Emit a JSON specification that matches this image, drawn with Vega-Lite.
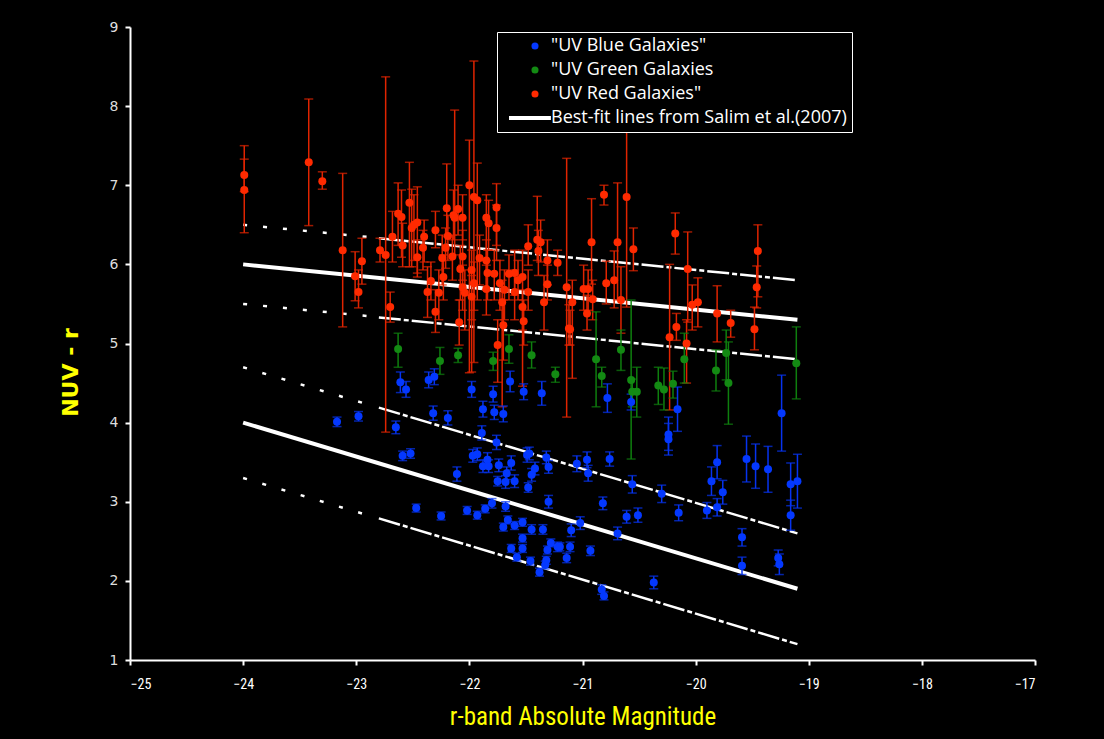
{
  "$schema": "https://vega.github.io/schema/vega-lite/v6.json",
  "width": 905,
  "height": 633,
  "autosize": "none",
  "padding": {"left": 130, "top": 27, "right": 69, "bottom": 79},
  "background": "#000000",
  "config": {
    "view": {"stroke": null},
    "axis": {"grid": false, "domainColor": "#ffffff", "domainWidth": 2, "tickColor": "#ffffff", "tickWidth": 2, "tickSize": 5}
  },
  "datasets": {
    "pts": [
      {"g":"r","x":-23.99,"y":7.13,"lo":6.92,"hi":7.5},
      {"g":"r","x":-23.99,"y":6.94,"lo":6.4,"hi":7.33},
      {"g":"r","x":-23.42,"y":7.29,"lo":6.49,"hi":8.09},
      {"g":"r","x":-23.3,"y":7.05,"lo":6.95,"hi":7.17},
      {"g":"r","x":-23.12,"y":6.18,"lo":5.21,"hi":7.15},
      {"g":"r","x":-23.01,"y":5.85,"lo":5.54,"hi":6.16},
      {"g":"r","x":-22.98,"y":5.65,"lo":5.45,"hi":5.93},
      {"g":"r","x":-22.95,"y":6.04,"lo":5.75,"hi":6.33},
      {"g":"r","x":-22.79,"y":6.18,"lo":6.03,"hi":6.33},
      {"g":"r","x":-22.74,"y":6.12,"lo":3.88,"hi":8.37},
      {"g":"r","x":-22.7,"y":5.46,"lo":5.27,"hi":5.65},
      {"g":"r","x":-22.68,"y":6.35,"lo":6.03,"hi":6.67},
      {"g":"r","x":-22.63,"y":6.64,"lo":6.24,"hi":7.03},
      {"g":"r","x":-22.6,"y":6.6,"lo":6.09,"hi":6.94},
      {"g":"r","x":-22.59,"y":6.24,"lo":5.97,"hi":6.52},
      {"g":"r","x":-22.53,"y":6.78,"lo":5.97,"hi":7.29},
      {"g":"r","x":-22.51,"y":6.46,"lo":5.97,"hi":6.95},
      {"g":"r","x":-22.49,"y":6.5,"lo":6.05,"hi":6.88},
      {"g":"r","x":-22.46,"y":6.53,"lo":5.89,"hi":6.98},
      {"g":"r","x":-22.46,"y":6.09,"lo":5.84,"hi":6.31},
      {"g":"r","x":-22.4,"y":6.35,"lo":6.03,"hi":6.56},
      {"g":"r","x":-22.41,"y":6.21,"lo":5.93,"hi":6.43},
      {"g":"r","x":-22.37,"y":5.65,"lo":5.33,"hi":5.97},
      {"g":"r","x":-22.34,"y":5.79,"lo":5.55,"hi":6.03},
      {"g":"r","x":-22.3,"y":6.43,"lo":6.21,"hi":6.67},
      {"g":"r","x":-22.3,"y":5.4,"lo":5.14,"hi":5.68},
      {"g":"r","x":-22.27,"y":5.64,"lo":5.3,"hi":5.93},
      {"g":"r","x":-22.24,"y":6.08,"lo":5.74,"hi":6.37},
      {"g":"r","x":-22.23,"y":5.84,"lo":5.55,"hi":6.12},
      {"g":"r","x":-22.21,"y":6.21,"lo":5.95,"hi":6.46},
      {"g":"r","x":-22.2,"y":6.71,"lo":6.35,"hi":7.27},
      {"g":"r","x":-22.19,"y":6.36,"lo":6.05,"hi":6.62},
      {"g":"r","x":-22.15,"y":6.1,"lo":5.8,"hi":6.37},
      {"g":"r","x":-22.14,"y":6.62,"lo":6.31,"hi":6.94},
      {"g":"r","x":-22.13,"y":6.59,"lo":6.12,"hi":7.95},
      {"g":"r","x":-22.1,"y":6.7,"lo":6.37,"hi":7.0},
      {"g":"r","x":-22.09,"y":5.27,"lo":4.98,"hi":5.55},
      {"g":"r","x":-22.08,"y":5.94,"lo":5.55,"hi":6.24},
      {"g":"r","x":-22.06,"y":6.1,"lo":5.8,"hi":6.43},
      {"g":"r","x":-22.06,"y":6.59,"lo":6.31,"hi":6.88},
      {"g":"r","x":-22.06,"y":5.71,"lo":5.42,"hi":5.99},
      {"g":"r","x":-22.04,"y":5.64,"lo":5.17,"hi":5.93},
      {"g":"r","x":-22.0,"y":7.0,"lo":4.63,"hi":7.57},
      {"g":"r","x":-21.98,"y":5.93,"lo":4.64,"hi":6.18},
      {"g":"r","x":-21.98,"y":5.59,"lo":5.3,"hi":5.86},
      {"g":"r","x":-21.96,"y":6.85,"lo":4.76,"hi":8.57},
      {"g":"r","x":-21.93,"y":6.81,"lo":5.55,"hi":7.28},
      {"g":"r","x":-21.96,"y":5.76,"lo":5.42,"hi":6.03},
      {"g":"r","x":-21.91,"y":6.08,"lo":5.74,"hi":6.37},
      {"g":"r","x":-21.85,"y":6.59,"lo":6.05,"hi":6.88},
      {"g":"r","x":-21.83,"y":6.52,"lo":6.18,"hi":6.81},
      {"g":"r","x":-21.85,"y":6.05,"lo":5.68,"hi":6.31},
      {"g":"r","x":-21.84,"y":5.89,"lo":5.55,"hi":6.18},
      {"g":"r","x":-21.85,"y":5.69,"lo":5.36,"hi":5.99},
      {"g":"r","x":-21.78,"y":5.88,"lo":5.55,"hi":6.18},
      {"g":"r","x":-21.76,"y":6.72,"lo":6.24,"hi":7.02},
      {"g":"r","x":-21.76,"y":6.46,"lo":6.05,"hi":6.75},
      {"g":"r","x":-21.75,"y":4.98,"lo":4.51,"hi":5.3},
      {"g":"r","x":-21.73,"y":5.76,"lo":5.42,"hi":6.05},
      {"g":"r","x":-21.71,"y":5.52,"lo":4.2,"hi":5.8},
      {"g":"r","x":-21.7,"y":5.23,"lo":4.79,"hi":5.55},
      {"g":"r","x":-21.69,"y":5.68,"lo":5.3,"hi":5.93},
      {"g":"r","x":-21.65,"y":5.88,"lo":5.55,"hi":6.12},
      {"g":"r","x":-21.6,"y":5.89,"lo":5.61,"hi":6.18},
      {"g":"r","x":-21.6,"y":5.65,"lo":5.3,"hi":5.93},
      {"g":"r","x":-21.57,"y":5.8,"lo":5.55,"hi":6.05},
      {"g":"r","x":-21.53,"y":5.46,"lo":5.17,"hi":5.68},
      {"g":"r","x":-21.53,"y":5.84,"lo":4.46,"hi":6.18},
      {"g":"r","x":-21.52,"y":5.28,"lo":4.98,"hi":5.55},
      {"g":"r","x":-21.48,"y":6.23,"lo":5.99,"hi":6.5},
      {"g":"r","x":-21.48,"y":5.65,"lo":5.42,"hi":5.93},
      {"g":"r","x":-21.4,"y":6.31,"lo":6.05,"hi":6.86},
      {"g":"r","x":-21.37,"y":6.28,"lo":6.03,"hi":6.56},
      {"g":"r","x":-21.39,"y":6.17,"lo":5.86,"hi":6.43},
      {"g":"r","x":-21.34,"y":5.52,"lo":5.17,"hi":5.86},
      {"g":"r","x":-21.31,"y":6.05,"lo":5.74,"hi":6.31},
      {"g":"r","x":-21.31,"y":5.75,"lo":5.55,"hi":5.99},
      {"g":"r","x":-21.22,"y":6.02,"lo":5.86,"hi":6.18},
      {"g":"r","x":-21.14,"y":5.71,"lo":4.07,"hi":7.34},
      {"g":"r","x":-21.12,"y":5.19,"lo":4.98,"hi":5.49},
      {"g":"r","x":-21.09,"y":5.52,"lo":4.56,"hi":5.8},
      {"g":"r","x":-20.99,"y":5.69,"lo":5.42,"hi":5.99},
      {"g":"r","x":-20.95,"y":5.69,"lo":5.42,"hi":5.93},
      {"g":"r","x":-20.96,"y":5.38,"lo":5.17,"hi":5.61},
      {"g":"r","x":-20.92,"y":6.28,"lo":5.75,"hi":6.83},
      {"g":"r","x":-20.91,"y":5.56,"lo":5.3,"hi":5.8},
      {"g":"r","x":-20.81,"y":6.88,"lo":6.75,"hi":7.0},
      {"g":"r","x":-20.79,"y":5.76,"lo":5.5,"hi":6.04},
      {"g":"r","x":-20.72,"y":5.8,"lo":5.45,"hi":6.17},
      {"g":"r","x":-20.69,"y":6.28,"lo":5.55,"hi":7.03},
      {"g":"r","x":-20.66,"y":5.55,"lo":5.13,"hi":5.97},
      {"g":"r","x":-20.61,"y":6.85,"lo":5.46,"hi":8.62},
      {"g":"r","x":-20.55,"y":6.19,"lo":5.92,"hi":6.46},
      {"g":"r","x":-20.18,"y":6.39,"lo":6.13,"hi":6.65},
      {"g":"r","x":-20.07,"y":5.94,"lo":5.27,"hi":6.41},
      {"g":"r","x":-19.98,"y":5.52,"lo":5.21,"hi":5.83},
      {"g":"r","x":-20.03,"y":5.49,"lo":5.17,"hi":5.74},
      {"g":"r","x":-19.81,"y":5.38,"lo":5.02,"hi":5.73},
      {"g":"r","x":-19.69,"y":5.26,"lo":5.08,"hi":5.42},
      {"g":"r","x":-19.45,"y":6.17,"lo":5.59,"hi":6.5},
      {"g":"r","x":-19.46,"y":5.71,"lo":5.45,"hi":5.98},
      {"g":"r","x":-19.48,"y":5.18,"lo":4.92,"hi":5.46},
      {"g":"r","x":-20.17,"y":5.21,"lo":5.04,"hi":5.38},
      {"g":"r","x":-20.23,"y":5.08,"lo":4.16,"hi":6.0},
      {"g":"r","x":-20.08,"y":5.0,"lo":4.5,"hi":5.3},
      {"g":"r","x":-21.11,"y":5.18,"lo":4.98,"hi":5.42},
      {"g":"g","x":-22.63,"y":4.93,"lo":4.7,"hi":5.13},
      {"g":"g","x":-22.26,"y":4.78,"lo":4.61,"hi":4.95},
      {"g":"g","x":-22.1,"y":4.85,"lo":4.76,"hi":4.94},
      {"g":"g","x":-21.79,"y":4.78,"lo":4.66,"hi":4.89},
      {"g":"g","x":-21.65,"y":4.93,"lo":4.75,"hi":5.11},
      {"g":"g","x":-21.45,"y":4.85,"lo":4.69,"hi":5.02},
      {"g":"g","x":-21.24,"y":4.61,"lo":4.51,"hi":4.7},
      {"g":"g","x":-20.88,"y":4.8,"lo":4.2,"hi":5.4},
      {"g":"g","x":-20.83,"y":4.59,"lo":4.45,"hi":4.7},
      {"g":"g","x":-20.66,"y":4.92,"lo":4.66,"hi":5.17},
      {"g":"g","x":-20.57,"y":4.54,"lo":3.54,"hi":5.55},
      {"g":"g","x":-20.56,"y":4.39,"lo":4.2,"hi":4.55},
      {"g":"g","x":-20.52,"y":4.39,"lo":4.07,"hi":4.7},
      {"g":"g","x":-20.33,"y":4.47,"lo":4.23,"hi":4.7},
      {"g":"g","x":-20.28,"y":4.42,"lo":4.16,"hi":4.69},
      {"g":"g","x":-20.2,"y":4.49,"lo":4.31,"hi":4.65},
      {"g":"g","x":-20.1,"y":4.8,"lo":4.5,"hi":5.13},
      {"g":"g","x":-19.82,"y":4.66,"lo":4.4,"hi":4.92},
      {"g":"g","x":-19.73,"y":4.88,"lo":4.54,"hi":5.17},
      {"g":"g","x":-19.71,"y":4.5,"lo":3.98,"hi":5.02},
      {"g":"g","x":-19.11,"y":4.75,"lo":4.3,"hi":5.21},
      {"g":"b","x":-23.17,"y":4.01,"lo":3.95,"hi":4.07},
      {"g":"b","x":-22.98,"y":4.08,"lo":4.02,"hi":4.14},
      {"g":"b","x":-22.65,"y":3.94,"lo":3.86,"hi":4.02},
      {"g":"b","x":-22.61,"y":4.51,"lo":4.38,"hi":4.64},
      {"g":"b","x":-22.56,"y":4.42,"lo":4.32,"hi":4.52},
      {"g":"b","x":-22.59,"y":3.58,"lo":3.52,"hi":3.64},
      {"g":"b","x":-22.52,"y":3.61,"lo":3.55,"hi":3.67},
      {"g":"b","x":-22.47,"y":2.92,"lo":2.87,"hi":2.97},
      {"g":"b","x":-22.36,"y":4.54,"lo":4.44,"hi":4.64},
      {"g":"b","x":-22.31,"y":4.58,"lo":4.48,"hi":4.68},
      {"g":"b","x":-22.32,"y":4.12,"lo":4.03,"hi":4.21},
      {"g":"b","x":-22.25,"y":2.82,"lo":2.77,"hi":2.87},
      {"g":"b","x":-22.19,"y":4.06,"lo":3.97,"hi":4.15},
      {"g":"b","x":-22.11,"y":3.35,"lo":3.26,"hi":3.44},
      {"g":"b","x":-22.02,"y":2.89,"lo":2.84,"hi":2.94},
      {"g":"b","x":-21.98,"y":4.42,"lo":4.32,"hi":4.52},
      {"g":"b","x":-21.97,"y":3.58,"lo":3.5,"hi":3.66},
      {"g":"b","x":-21.93,"y":3.6,"lo":3.52,"hi":3.68},
      {"g":"b","x":-21.93,"y":2.83,"lo":2.78,"hi":2.88},
      {"g":"b","x":-21.89,"y":3.87,"lo":3.78,"hi":3.96},
      {"g":"b","x":-21.88,"y":4.17,"lo":4.07,"hi":4.27},
      {"g":"b","x":-21.86,"y":2.91,"lo":2.86,"hi":2.96},
      {"g":"b","x":-21.88,"y":3.45,"lo":3.37,"hi":3.53},
      {"g":"b","x":-21.84,"y":3.53,"lo":3.44,"hi":3.62},
      {"g":"b","x":-21.83,"y":3.45,"lo":3.37,"hi":3.53},
      {"g":"b","x":-21.8,"y":2.98,"lo":2.92,"hi":3.04},
      {"g":"b","x":-21.79,"y":4.36,"lo":4.26,"hi":4.46},
      {"g":"b","x":-21.78,"y":4.13,"lo":4.04,"hi":4.22},
      {"g":"b","x":-21.76,"y":3.75,"lo":3.66,"hi":3.84},
      {"g":"b","x":-21.74,"y":3.46,"lo":3.38,"hi":3.54},
      {"g":"b","x":-21.75,"y":3.26,"lo":3.2,"hi":3.32},
      {"g":"b","x":-21.7,"y":4.11,"lo":4.01,"hi":4.21},
      {"g":"b","x":-21.7,"y":2.68,"lo":2.63,"hi":2.73},
      {"g":"b","x":-21.68,"y":2.94,"lo":2.88,"hi":3.0},
      {"g":"b","x":-21.68,"y":3.25,"lo":3.17,"hi":3.33},
      {"g":"b","x":-21.66,"y":2.77,"lo":2.72,"hi":2.82},
      {"g":"b","x":-21.64,"y":4.52,"lo":4.39,"hi":4.65},
      {"g":"b","x":-21.63,"y":3.49,"lo":3.4,"hi":3.58},
      {"g":"b","x":-21.67,"y":3.36,"lo":3.28,"hi":3.44},
      {"g":"b","x":-21.6,"y":3.26,"lo":3.18,"hi":3.34},
      {"g":"b","x":-21.6,"y":2.7,"lo":2.65,"hi":2.75},
      {"g":"b","x":-21.53,"y":2.74,"lo":2.69,"hi":2.79},
      {"g":"b","x":-21.53,"y":2.54,"lo":2.49,"hi":2.59},
      {"g":"b","x":-21.53,"y":2.41,"lo":2.36,"hi":2.46},
      {"g":"b","x":-21.63,"y":2.41,"lo":2.36,"hi":2.46},
      {"g":"b","x":-21.58,"y":2.3,"lo":2.25,"hi":2.35},
      {"g":"b","x":-21.52,"y":4.39,"lo":4.29,"hi":4.49},
      {"g":"b","x":-21.49,"y":3.59,"lo":3.5,"hi":3.68},
      {"g":"b","x":-21.47,"y":3.61,"lo":3.53,"hi":3.69},
      {"g":"b","x":-21.48,"y":3.18,"lo":3.12,"hi":3.24},
      {"g":"b","x":-21.45,"y":3.34,"lo":3.26,"hi":3.42},
      {"g":"b","x":-21.45,"y":2.65,"lo":2.59,"hi":2.71},
      {"g":"b","x":-21.46,"y":2.25,"lo":2.2,"hi":2.3},
      {"g":"b","x":-21.42,"y":3.42,"lo":3.34,"hi":3.5},
      {"g":"b","x":-21.38,"y":2.11,"lo":2.06,"hi":2.16},
      {"g":"b","x":-21.36,"y":4.37,"lo":4.22,"hi":4.52},
      {"g":"b","x":-21.35,"y":2.65,"lo":2.59,"hi":2.71},
      {"g":"b","x":-21.32,"y":3.56,"lo":3.48,"hi":3.64},
      {"g":"b","x":-21.3,"y":3.44,"lo":3.36,"hi":3.52},
      {"g":"b","x":-21.3,"y":3.0,"lo":2.92,"hi":3.08},
      {"g":"b","x":-21.31,"y":2.39,"lo":2.34,"hi":2.44},
      {"g":"b","x":-21.32,"y":2.26,"lo":2.21,"hi":2.31},
      {"g":"b","x":-21.33,"y":2.2,"lo":2.15,"hi":2.25},
      {"g":"b","x":-21.28,"y":2.48,"lo":2.43,"hi":2.53},
      {"g":"b","x":-21.22,"y":2.43,"lo":2.37,"hi":2.49},
      {"g":"b","x":-21.2,"y":2.43,"lo":2.38,"hi":2.48},
      {"g":"b","x":-21.14,"y":2.29,"lo":2.23,"hi":2.35},
      {"g":"b","x":-21.11,"y":2.43,"lo":2.37,"hi":2.49},
      {"g":"b","x":-21.1,"y":2.64,"lo":2.56,"hi":2.72},
      {"g":"b","x":-21.05,"y":3.48,"lo":3.38,"hi":3.58},
      {"g":"b","x":-21.02,"y":2.73,"lo":2.65,"hi":2.81},
      {"g":"b","x":-20.96,"y":3.53,"lo":3.43,"hi":3.63},
      {"g":"b","x":-20.95,"y":3.36,"lo":3.26,"hi":3.46},
      {"g":"b","x":-20.93,"y":2.38,"lo":2.32,"hi":2.44},
      {"g":"b","x":-20.82,"y":2.98,"lo":2.9,"hi":3.06},
      {"g":"b","x":-20.78,"y":4.31,"lo":4.13,"hi":4.49},
      {"g":"b","x":-20.76,"y":3.54,"lo":3.45,"hi":3.63},
      {"g":"b","x":-20.69,"y":2.6,"lo":2.52,"hi":2.68},
      {"g":"b","x":-20.83,"y":1.89,"lo":1.83,"hi":1.95},
      {"g":"b","x":-20.81,"y":1.81,"lo":1.76,"hi":1.86},
      {"g":"b","x":-20.61,"y":2.81,"lo":2.73,"hi":2.89},
      {"g":"b","x":-20.57,"y":4.26,"lo":4.16,"hi":4.36},
      {"g":"b","x":-20.56,"y":3.22,"lo":3.11,"hi":3.33},
      {"g":"b","x":-20.51,"y":2.83,"lo":2.74,"hi":2.92},
      {"g":"b","x":-20.37,"y":1.98,"lo":1.9,"hi":2.06},
      {"g":"b","x":-20.3,"y":3.1,"lo":2.99,"hi":3.21},
      {"g":"b","x":-20.24,"y":3.85,"lo":3.65,"hi":4.07},
      {"g":"b","x":-20.24,"y":3.79,"lo":3.59,"hi":3.99},
      {"g":"b","x":-20.16,"y":4.17,"lo":3.89,"hi":4.45},
      {"g":"b","x":-20.15,"y":2.86,"lo":2.76,"hi":2.96},
      {"g":"b","x":-19.9,"y":2.89,"lo":2.79,"hi":2.99},
      {"g":"b","x":-19.86,"y":3.26,"lo":3.08,"hi":3.44},
      {"g":"b","x":-19.81,"y":3.5,"lo":3.29,"hi":3.71},
      {"g":"b","x":-19.76,"y":3.12,"lo":2.97,"hi":3.27},
      {"g":"b","x":-19.81,"y":2.93,"lo":2.82,"hi":3.04},
      {"g":"b","x":-19.55,"y":3.54,"lo":3.25,"hi":3.83},
      {"g":"b","x":-19.47,"y":3.45,"lo":3.17,"hi":3.73},
      {"g":"b","x":-19.36,"y":3.41,"lo":3.12,"hi":3.7},
      {"g":"b","x":-19.24,"y":4.12,"lo":3.64,"hi":4.6},
      {"g":"b","x":-19.16,"y":3.22,"lo":2.95,"hi":3.49},
      {"g":"b","x":-19.1,"y":3.26,"lo":2.92,"hi":3.6},
      {"g":"b","x":-19.16,"y":2.83,"lo":2.64,"hi":3.02},
      {"g":"b","x":-19.59,"y":2.55,"lo":2.44,"hi":2.66},
      {"g":"b","x":-19.59,"y":2.19,"lo":2.08,"hi":2.3},
      {"g":"b","x":-19.27,"y":2.29,"lo":2.19,"hi":2.39},
      {"g":"b","x":-19.26,"y":2.21,"lo":2.08,"hi":2.34}
    ],
    "fit": [
      {"id":"r0","k":"solid","x":-24,"y":6.0},
      {"id":"r0","k":"solid","x":-19.1,"y":5.3},
      {"id":"b0","k":"solid","x":-24,"y":4.0},
      {"id":"b0","k":"solid","x":-19.1,"y":1.9},
      {"id":"r1a","k":"sparse","x":-24,"y":6.5},
      {"id":"r1a","k":"sparse","x":-22.85,"y":6.34},
      {"id":"r1b","k":"dense","x":-22.8,"y":6.33},
      {"id":"r1b","k":"dense","x":-19.1,"y":5.8},
      {"id":"r2a","k":"sparse","x":-24,"y":5.5},
      {"id":"r2a","k":"sparse","x":-22.85,"y":5.34},
      {"id":"r2b","k":"dense","x":-22.8,"y":5.33},
      {"id":"r2b","k":"dense","x":-19.1,"y":4.8},
      {"id":"b1a","k":"sparse","x":-24,"y":4.7},
      {"id":"b1a","k":"sparse","x":-22.85,"y":4.21},
      {"id":"b1b","k":"dense","x":-22.8,"y":4.19},
      {"id":"b1b","k":"dense","x":-19.1,"y":2.6},
      {"id":"b2a","k":"sparse","x":-24,"y":3.3},
      {"id":"b2a","k":"sparse","x":-22.85,"y":2.81},
      {"id":"b2b","k":"dense","x":-22.8,"y":2.79},
      {"id":"b2b","k":"dense","x":-19.1,"y":1.2}
    ]
  },
  "encoding": {
    "x": {"field": "x", "type": "quantitative",
      "scale": {"domain": [-25, -17], "nice": false, "zero": false},
      "axis": {"values": [-25,-24,-23,-22,-21,-20,-19,-18,-17], "title": "r-band Absolute Magnitude",
        "labelColor": "#ffffff", "labelFont": "Liberation Sans Narrow, Roboto Condensed, Arial Narrow, sans-serif", "labelFontSize": 14, "labelPadding": 12,
        "titleColor": "#ffff00", "titleFont": "Liberation Sans Narrow, Roboto Condensed, Arial Narrow, sans-serif", "titleFontSize": 25, "titleFontWeight": "normal", "titlePadding": 13}},
    "y": {"field": "y", "type": "quantitative",
      "scale": {"domain": [1, 9], "nice": false, "zero": false},
      "axis": {"values": [1,2,3,4,5,6,7,8,9], "title": "NUV - r",
        "labelColor": "#dddddd", "labelFont": "DejaVu Sans", "labelFontSize": 14, "labelPadding": 7,
        "titleColor": "#ffff00", "titleFont": "DejaVu Sans", "titleFontSize": 22, "titleFontWeight": "bold",
        "titleX": -60, "titleY": 345, "titleAlign": "center", "titleBaseline": "middle", "titleAngle": -90}}
  },
  "layer": [
    {
      "data": {"name": "fit"},
      "transform": [{"filter": "datum.k == 'solid'"}],
      "mark": {"type": "line", "color": "#ffffff", "strokeWidth": 4},
      "encoding": {"detail": {"field": "id"}}
    },
    {
      "data": {"name": "fit"},
      "transform": [{"filter": "datum.k != 'solid'"}],
      "mark": {"type": "line", "color": "#ffffff", "strokeWidth": 2.5},
      "encoding": {"detail": {"field": "id"},
        "strokeDash": {"field": "k", "scale": {"domain": ["sparse", "dense"], "range": [[4, 16], [22, 3, 5, 3]]}, "legend": null}}
    },
    {
      "data": {"name": "pts"},
      "transform": [{"filter": "datum.g == 'r'"}],
      "mark": {"type": "errorbar", "ticks": {"size": 9}, "thickness": 1.5, "color": "#e02400"},
      "encoding": {"y": {"field": "lo", "type": "quantitative"}, "y2": {"field": "hi"}}
    },
    {
      "data": {"name": "pts"},
      "transform": [{"filter": "datum.g == 'g'"}],
      "mark": {"type": "errorbar", "ticks": {"size": 9}, "thickness": 1.5, "color": "#0e7f0e"},
      "encoding": {"y": {"field": "lo", "type": "quantitative"}, "y2": {"field": "hi"}}
    },
    {
      "data": {"name": "pts"},
      "transform": [{"filter": "datum.g == 'b'"}],
      "mark": {"type": "errorbar", "ticks": {"size": 9}, "thickness": 1.5, "color": "#0633f0"},
      "encoding": {"y": {"field": "lo", "type": "quantitative"}, "y2": {"field": "hi"}}
    },
    {
      "data": {"name": "pts"},
      "mark": {"type": "point", "filled": true, "opacity": 1, "size": 64},
      "encoding": {
        "color": {"field": "g", "type": "nominal",
          "scale": {"domain": ["b", "g", "r", "l"], "range": ["#0438ff", "#138a13", "#ff2a00", "#ffffff"]},
          "legend": {"orient": "none", "legendX": 367, "legendY": 5, "title": null,
            "strokeColor": "#ffffff", "fillColor": "#000000", "padding": 5,
            "labelColor": "#ffffff", "labelFont": "Open Sans", "labelFontSize": 18, "labelLimit": 400,
            "symbolSize": 50, "symbolStrokeWidth": 0, "symbolOffset": 24, "labelOffset": 7, "rowPadding": 6,
            "labelExpr": "datum.value == 'b' ? '\"UV Blue Galaxies\"' : datum.value == 'g' ? '\"UV Green Galaxies' : datum.value == 'r' ? '\"UV Red Galaxies\"' : 'Best-fit lines from Salim et al.(2007)'"}},
        "shape": {"field": "g", "type": "nominal",
          "scale": {"domain": ["b", "g", "r", "l"], "range": ["circle", "circle", "circle", "M-7.35,-0.56H4.5V0.56H-7.35Z"]}}
      }
    }
  ]
}
